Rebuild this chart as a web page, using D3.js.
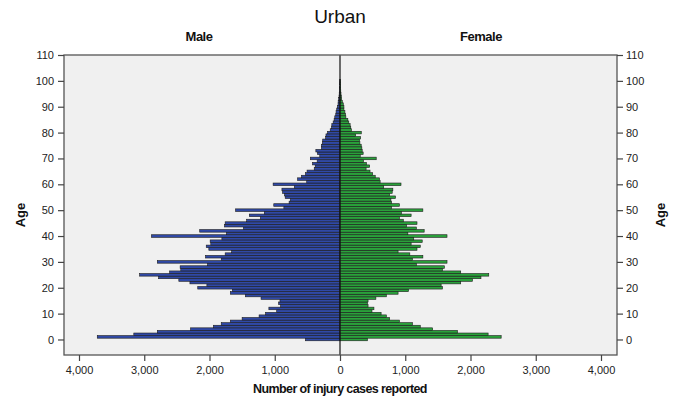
<!DOCTYPE html>
<html>
<head>
<meta charset="utf-8">
<script src="https://cdn.jsdelivr.net/npm/d3@7/dist/d3.min.js"></script>
<style>
  html, body { margin: 0; padding: 0; background: #ffffff; }
  svg { display: block; font-family: "Liberation Sans", Arial, sans-serif; }
</style>
</head>
<body>
<svg id="chart" width="677" height="401"></svg>
<script>
// ---- data ----
const title = "Urban";
const seriesNames = ["Male", "Female"];
const ages = d3.range(0, 101);
const maleValues = [
  530, 3720, 3160, 2800, 2290, 1940, 1820, 1680, 1500, 1240,
  1140, 970, 1090, 910, 940, 920, 1210, 1450, 1680, 1650,
  2180, 2040, 2300, 2470, 2780, 3070, 2610, 2440, 2450, 2030,
  2800, 1820, 2060, 1760, 1660, 2010, 2050, 1980, 1990, 1810,
  2890, 1740, 2150, 1480, 1770, 1760, 1430, 1220, 1390, 1160,
  1600, 860, 1015, 780, 760, 840, 850, 880, 890, 700,
  1025, 510, 650, 590, 530, 505, 395, 380, 420, 350,
  455, 310, 345, 370, 285, 285, 270, 265, 220, 215,
  190, 150, 130, 125, 105, 90, 80, 65, 60, 50,
  40, 30, 28, 20, 15, 12, 10, 8, 6, 5, 4
];
const femaleValues = [
  420, 2470, 2270, 1800, 1420, 1230, 1110, 910, 760, 710,
  630, 490, 520, 430, 420, 430, 550, 710, 890, 1050,
  1570, 1550, 1850, 2030, 2160, 2280, 1850, 1570, 1600, 1170,
  1640, 1110, 1270, 1070, 890, 1180, 1230, 1090, 1260, 1130,
  1640, 1040, 1290, 1170, 1020, 1180, 970, 910, 1090, 940,
  1270, 790, 910, 790, 780, 850, 760, 800, 810, 670,
  935, 615, 605, 540, 500, 460, 400, 455, 405, 360,
  555, 310, 355, 340, 335, 325, 305, 300, 315, 240,
  326, 175, 165, 155, 135, 120, 90, 85, 75, 60,
  60, 50, 35, 25, 20, 15, 12, 10, 8, 6, 5
];
const xTicks = [-4000, -3000, -2000, -1000, 0, 1000, 2000, 3000, 4000];
const yTicks = d3.range(0, 111, 10);
const xTitle = "Number of injury cases reported";
const yTitle = "Age";

// ---- layout ----
const svg = d3.select("#chart");
const frame = { left: 64, right: 617, top: 55, bottom: 355 };

const x = d3.scaleLinear().domain([-4000, 4000]).range([79, 601]);
const y = d3.scaleLinear().domain([-6, 110]).range([frame.bottom, frame.top]);

// plot background
svg.append("rect")
  .attr("x", frame.left).attr("y", frame.top)
  .attr("width", frame.right - frame.left).attr("height", frame.bottom - frame.top)
  .attr("fill", "#f0f0f0");

// bars
const maleColor = "#3049a6";
const femaleColor = "#2aa13b";
const rows = ages.map((a, i) => ({ age: a, m: maleValues[i], f: femaleValues[i] }));

svg.append("g").selectAll("rect").data(rows).join("rect")
  .attr("x", d => x(-d.m))
  .attr("width", d => x(0) - x(-d.m))
  .attr("y", d => y(d.age + 0.5))
  .attr("height", d => y(d.age - 0.5) - y(d.age + 0.5))
  .attr("fill", maleColor)
  .attr("stroke", "#1c1c1c")
  .attr("stroke-width", 0.6);

svg.append("g").selectAll("rect").data(rows).join("rect")
  .attr("x", x(0))
  .attr("width", d => x(d.f) - x(0))
  .attr("y", d => y(d.age + 0.5))
  .attr("height", d => y(d.age - 0.5) - y(d.age + 0.5))
  .attr("fill", femaleColor)
  .attr("stroke", "#1c1c1c")
  .attr("stroke-width", 0.6);

// center line
svg.append("line")
  .attr("x1", x(0)).attr("x2", x(0))
  .attr("y1", frame.top).attr("y2", frame.bottom)
  .attr("stroke", "#111").attr("stroke-width", 1.2);

// frame
svg.append("rect")
  .attr("x", frame.left).attr("y", frame.top)
  .attr("width", frame.right - frame.left).attr("height", frame.bottom - frame.top)
  .attr("fill", "none").attr("stroke", "#555").attr("stroke-width", 1.3);

// axes
const fmt = d3.format(",");
const xAxis = d3.axisBottom(x).tickValues(xTicks).tickSize(6).tickPadding(5)
  .tickFormat(d => fmt(Math.abs(d)));
const gx = svg.append("g").attr("transform", `translate(0,${frame.bottom})`).call(xAxis);
gx.select(".domain").remove();

const yAxisL = d3.axisLeft(y).tickValues(yTicks).tickSize(6).tickPadding(4);
const gyl = svg.append("g").attr("transform", `translate(${frame.left},0)`).call(yAxisL);
gyl.select(".domain").remove();

const yAxisR = d3.axisRight(y).tickValues(yTicks).tickSize(6).tickPadding(3);
const gyr = svg.append("g").attr("transform", `translate(${frame.right},0)`).call(yAxisR);
gyr.select(".domain").remove();

svg.selectAll(".tick line").attr("stroke", "#444").attr("stroke-width", 1.2);
svg.selectAll(".tick text")
  .attr("font-family", "Liberation Sans, Arial, sans-serif")
  .attr("font-size", 11).attr("fill", "#222");

// titles
svg.append("text").attr("x", 340).attr("y", 23)
  .attr("text-anchor", "middle").attr("font-size", 19).attr("fill", "#111")
  .text(title);

svg.append("text").attr("x", 199).attr("y", 41)
  .attr("text-anchor", "middle").attr("font-size", 13).attr("font-weight", "bold")
  .attr("letter-spacing", -0.5).attr("fill", "#111")
  .text(seriesNames[0]);
svg.append("text").attr("x", 481).attr("y", 41)
  .attr("text-anchor", "middle").attr("font-size", 13).attr("font-weight", "bold")
  .attr("letter-spacing", -0.5).attr("fill", "#111")
  .text(seriesNames[1]);

svg.append("text").attr("x", 340).attr("y", 393)
  .attr("text-anchor", "middle").attr("font-size", 12.5).attr("font-weight", "bold")
  .attr("letter-spacing", -0.6).attr("fill", "#111")
  .text(xTitle);

svg.append("text").attr("transform", "translate(25,215) rotate(-90)")
  .attr("text-anchor", "middle").attr("font-size", 13).attr("font-weight", "bold")
  .attr("fill", "#111").text(yTitle);
svg.append("text").attr("transform", "translate(665,215) rotate(-90)")
  .attr("text-anchor", "middle").attr("font-size", 13).attr("font-weight", "bold")
  .attr("fill", "#111").text(yTitle);
</script>
</body>
</html>
